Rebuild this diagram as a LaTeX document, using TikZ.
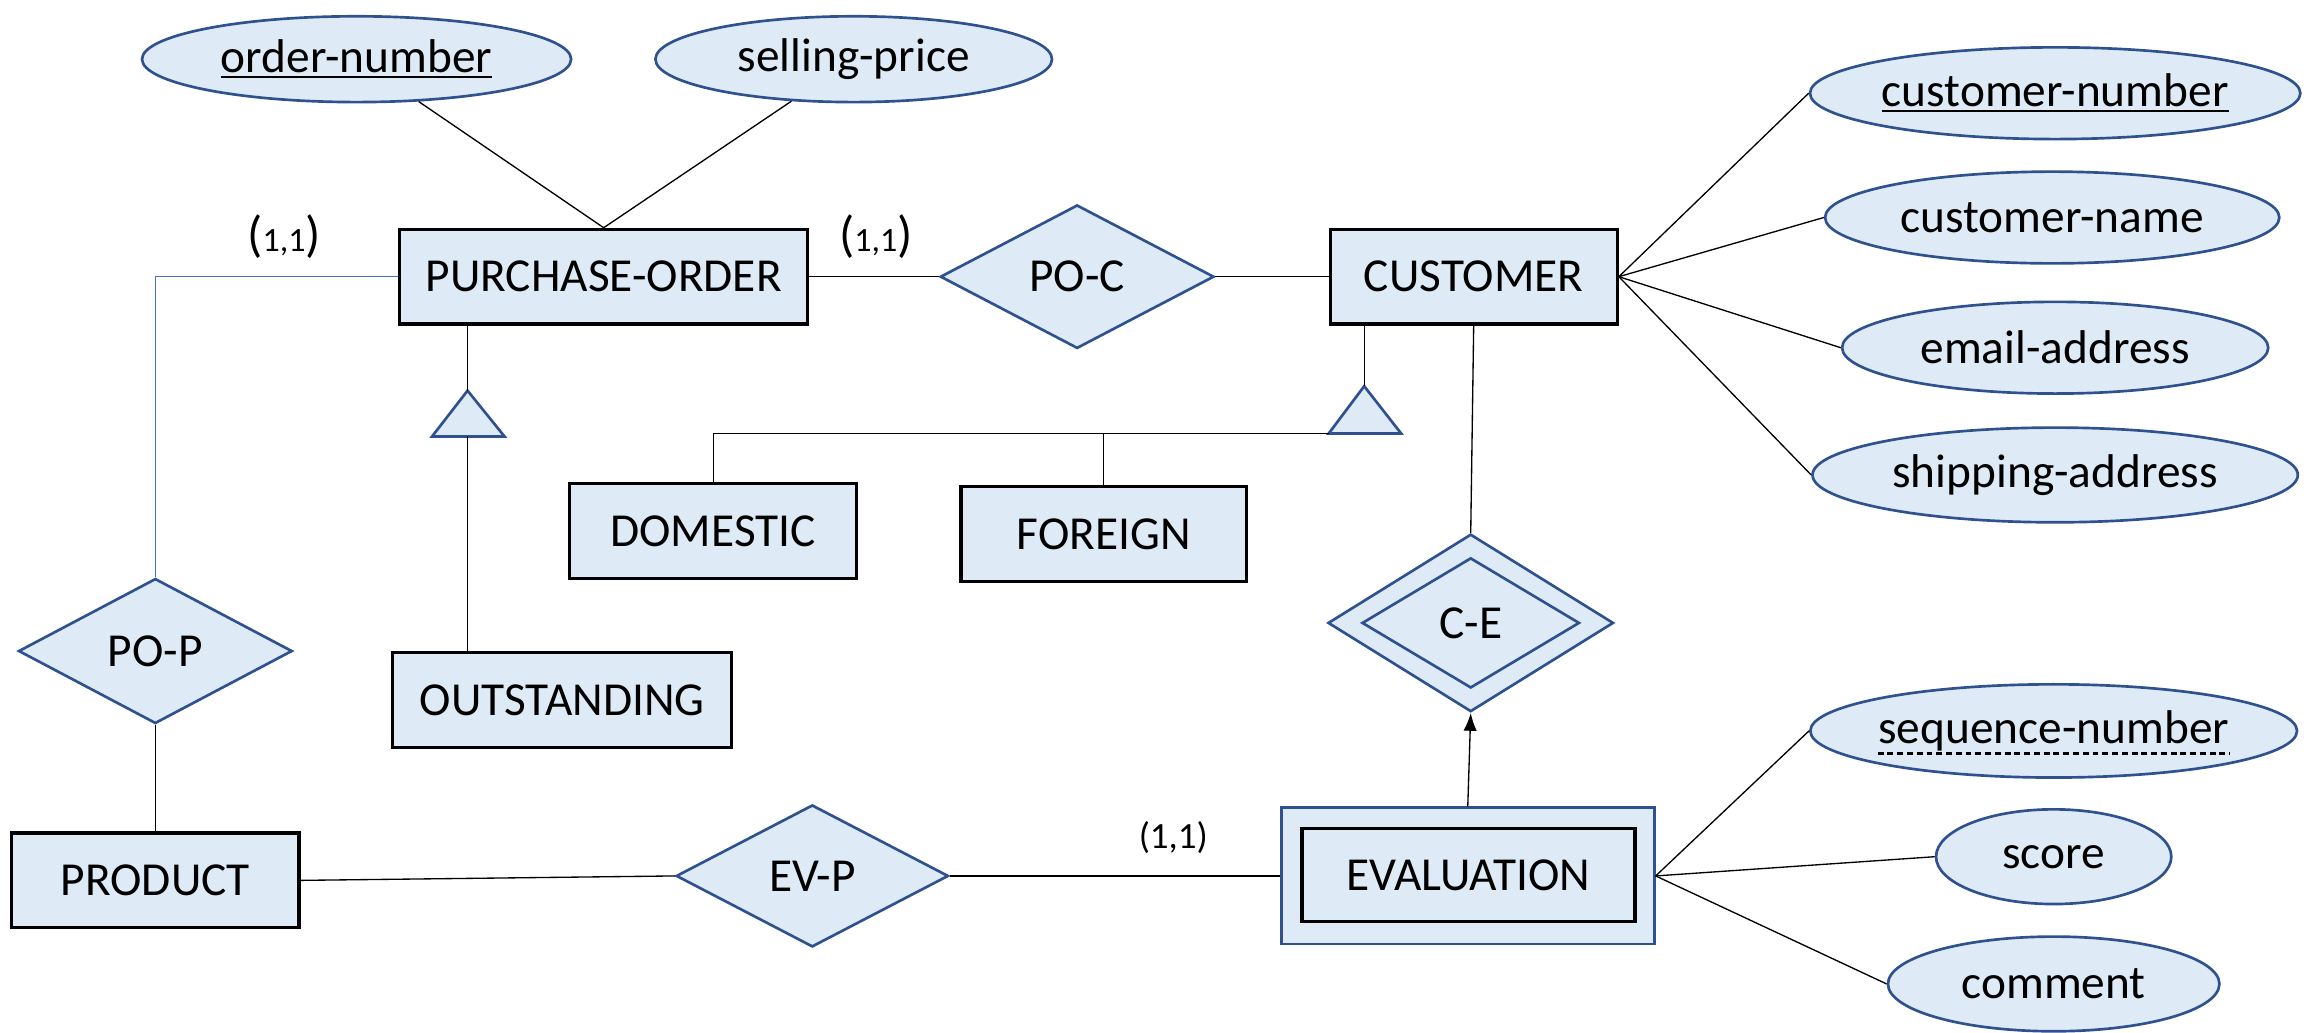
\documentclass[tikz,border=0pt]{standalone}
\usepackage{fontspec}
\setmainfont{Carlito}
\usetikzlibrary{shapes.geometric,arrows.meta,calc}
\definecolor{erfill}{HTML}{DEEBF7}
\definecolor{erblue}{HTML}{2F528F}
\definecolor{linkblue}{HTML}{4472C4}
\newcommand{\cardlabel}{{\fontsize{17}{20}\selectfont(}{\fontsize{11.5}{14}\selectfont 1,1}{\fontsize{17}{20}\selectfont)}}
\begin{document}
\begin{tikzpicture}[x=0.5pt,y=-0.5pt,
  every node/.style={font=\fontsize{16}{19}\selectfont, inner sep=0pt, text=black},
  entity/.style={draw=black, line width=1.1pt, fill=erfill, rectangle},
  attr/.style={draw=erblue, line width=0.9pt, fill=erfill, ellipse},
  rel/.style={draw=erblue, line width=0.9pt, fill=erfill, diamond},
  conn/.style={line width=0.45pt, draw=black},
  isa/.style={draw=erblue, line width=0.9pt, fill=erfill}
]
\useasboundingbox (0,0) rectangle (1568,697.5);

% entities
\node[entity, minimum width=138pt, minimum height=32pt] (po) at (408,187) {PURCHASE-ORDER};
\node[entity, minimum width=97pt, minimum height=32pt] (cust) at (996,187) {CUSTOMER};
\node[entity, minimum width=97pt, minimum height=32pt] (dom) at (482,359) {DOMESTIC};
\node[entity, minimum width=96.5pt, minimum height=32pt] (for) at (746,361) {FOREIGN};
\node[entity, minimum width=114.5pt, minimum height=32pt] (out) at (380,473) {OUTSTANDING};
\node[entity, minimum width=97pt, minimum height=32pt] (prod) at (105,595) {PRODUCT};
\node[draw=erblue, line width=1pt, fill=erfill, minimum width=126pt, minimum height=46pt] (eval) at (992,592) {};
\node[entity, minimum width=112.5pt, minimum height=31.5pt] (evalin) at (992.5,591.5) {EVALUATION};

% attributes
\node[attr, minimum width=145pt, minimum height=29pt] (ordnum) at (241,40) {\underline{order-number}};
\node[attr, minimum width=134pt, minimum height=29pt] (sellp) at (577,40) {selling-price};
\node[attr, minimum width=164pt, minimum height=31pt] (custnum) at (1389,63) {\underline{customer-number}};
\node[attr, minimum width=153.5pt, minimum height=31pt] (custname) at (1387,147) {customer-name};
\node[attr, minimum width=144pt, minimum height=31pt] (email) at (1389,235) {email-address};
\node[attr, minimum width=164pt, minimum height=32pt] (ship) at (1389,321) {shipping-address};
\node[attr, minimum width=164.5pt, minimum height=31.5pt] (seqnum) at (1388,494) {};
\node (seqtxt) at (1388,494) {sequence-number};
\draw[line width=0.9pt, dash pattern=on 2pt off 1.3pt] ($(seqtxt.base west)+(0,-3.4pt)$) -- ($(seqtxt.base east)+(0,-3.4pt)$);
\node[attr, minimum width=79.5pt, minimum height=32pt] (score) at (1388,579) {score};
\node[attr, minimum width=112pt, minimum height=32pt] (comment) at (1388,665) {comment};

% relationships
\node[rel, minimum width=92.5pt, minimum height=48.5pt] (poc) at (728,187) {PO-C};
\node[rel, minimum width=92.5pt, minimum height=49pt] (pop) at (105,440) {PO-P};
\node[rel, minimum width=92pt, minimum height=48pt] (evp) at (549,592) {EV-P};
\node[rel, minimum width=96.5pt, minimum height=60pt] (ce) at (994,421) {};
\node[rel, minimum width=73.5pt, minimum height=44pt] (cein) at (994,421) {C-E};

% ISA triangles
\coordinate (t1) at (316,264);
\coordinate (t1b) at (316,295);
\draw[isa] (t1) -- (341,295) -- (292,295) -- cycle;
\coordinate (t2) at (922,261);
\coordinate (t2l) at (898,293);
\draw[isa] (t2) -- (947,293) -- (898,293) -- cycle;

% connectors
\draw[conn] (ordnum) -- (po.north);
\draw[conn] (sellp) -- (po.north);
\draw[conn] (po.east) -- (poc.west);
\draw[conn] (poc.east) -- (cust.west);
\draw[conn] (cust.east) -- (custnum.west);
\draw[conn] (cust.east) -- (custname.west);
\draw[conn] (cust.east) -- (email.west);
\draw[conn] (cust.east) -- (ship.west);
\draw[line width=0.5pt, draw=linkblue] (po.west) -| (pop.north);
\draw[conn] (pop.south) -- (prod.north);
\draw[conn] (prod.east) -- (evp.west);
\draw[conn] (evp.east) -- (eval.west);
\draw[conn, -{Latex[length=6pt,width=4.5pt]}] (eval.north) -- (ce.south);
\draw[conn] (cust.south) -- (ce.north);
\draw[conn] (eval.east) -- (seqnum.west);
\draw[conn] (eval.east) -- (score.west);
\draw[conn] (eval.east) -- (comment.west);
\draw[conn] (t1 |- po.south) -- (t1);
\draw[conn] (t1b) -- (t1b |- out.north);
\draw[conn] (t2 |- cust.south) -- (t2);
\coordinate (dj) at (dom.north |- t2l);
\coordinate (fj) at (for.north |- t2l);
\draw[conn] (t2l) -- (dj) -- (dom.north);
\draw[conn] (fj) -- (for.north);

% cardinalities
\node (c1) at (192,160) {\cardlabel};
\node (c2) at (592,160) {\cardlabel};
\node[font=\fontsize{12.5}{15}\selectfont] (c3) at (793,566) {(1,1)};
\end{tikzpicture}
\end{document}
